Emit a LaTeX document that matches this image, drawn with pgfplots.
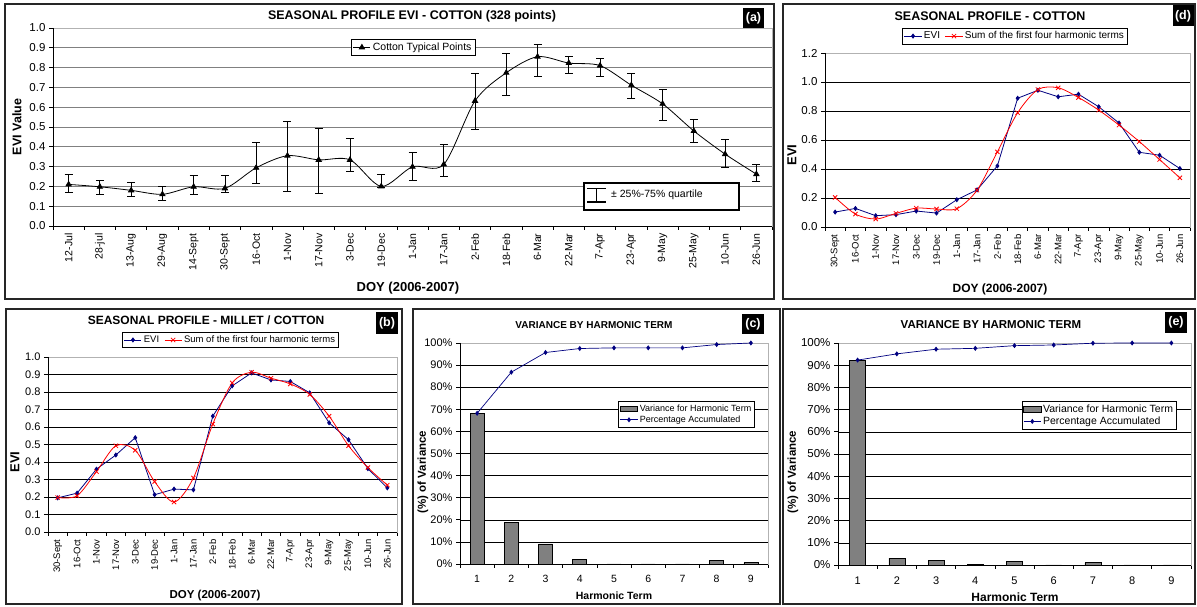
\documentclass[border=0pt]{standalone}
\usepackage{fontspec}
\setmainfont{Liberation Sans}
\usepackage{pgfplots}
\pgfplotsset{compat=1.18}
\definecolor{evi}{RGB}{0,0,128}
\definecolor{harm}{RGB}{255,0,0}
\definecolor{bargray}{RGB}{128,128,128}
\pgfplotsset{
  excel/.style={
    scale only axis, anchor=south west,
    axis line style={draw=gray!60, line width=0.6pt},
    tick style={black, line width=0.6pt},
    tick align=outside, xtick pos=bottom, ytick pos=left,
    major tick length=4pt,
    ymajorgrids, major grid style={black, line width=0.5pt},
    ticklabel style={font=\fontsize{11}{12}\selectfont},
    x tick label as interval,
    legend cell align=left,
    after end axis/.code={\draw[black, line width=0.8pt] (rel axis cs:0,1) -- (rel axis cs:0,0) -- (rel axis cs:1,0);},
    clip=false,
  },
  rotlabels/.style={xticklabel style={rotate=90, anchor=east, font=\fontsize{9.5}{11}\selectfont}},
  evistyle/.style={evi, line width=0.8pt, mark=diamond*, mark size=2pt, mark options={fill=evi, draw=evi}},
  harmstyle/.style={harm, line width=0.8pt, smooth, mark=x, mark size=3pt, mark options={draw=harm}},
}
\pgfplotstableread{
x y ep em
0 0.210 0.050 0.040
1 0.198 0.032 0.038
2 0.180 0.038 0.033
3 0.160 0.040 0.032
4 0.198 0.055 0.038
5 0.190 0.068 0.018
6 0.294 0.128 0.081
7 0.355 0.174 0.181
8 0.334 0.159 0.170
9 0.334 0.109 0.059
10 0.200 0.060 0.005
11 0.299 0.073 0.069
12 0.311 0.103 0.061
13 0.632 0.140 0.146
14 0.774 0.099 0.114
15 0.855 0.064 0.098
16 0.823 0.033 0.053
17 0.810 0.036 0.053
18 0.711 0.061 0.069
19 0.617 0.074 0.085
20 0.480 0.059 0.058
21 0.363 0.075 0.067
22 0.262 0.047 0.037
}\tableA
\pgfplotstableread{
x evi harm
0 0.103 0.204
1 0.128 0.089
2 0.078 0.055
3 0.085 0.094
4 0.110 0.130
5 0.096 0.124
6 0.188 0.126
7 0.256 0.254
8 0.421 0.518
9 0.888 0.788
10 0.943 0.948
11 0.898 0.960
12 0.916 0.893
13 0.829 0.806
14 0.717 0.703
15 0.515 0.589
16 0.495 0.465
17 0.403 0.339
}\tableD
\pgfplotstableread{
x evi harm
0 0.195 0.197
1 0.222 0.207
2 0.359 0.345
3 0.440 0.493
4 0.539 0.467
5 0.213 0.288
6 0.245 0.171
7 0.241 0.309
8 0.662 0.617
9 0.835 0.852
10 0.909 0.913
11 0.869 0.879
12 0.860 0.846
13 0.795 0.786
14 0.624 0.662
15 0.527 0.493
16 0.362 0.368
17 0.252 0.268
}\tableB
\pgfplotstableread{
x bar acc
1 68.2 68.2
2 18.7 86.8
3 9.1 95.7
4 1.9 97.5
5 0 97.8
6 0 97.8
7 0 97.8
8 1.6 99.3
9 0.6 100
}\tableC
\pgfplotstableread{
x bar acc
1 92.3 92.3
2 3.1 95.1
3 2.0 97.2
4 0.4 97.6
5 1.7 98.8
6 0 99.1
7 1.0 99.9
8 0 100
9 0 100
}\tableE
\newcommand{\plabel}[1]{\fontsize{12.5}{13}\selectfont\bfseries #1}
\begin{document}
\begin{tikzpicture}
\useasboundingbox (0,0) rectangle (1197pt,607pt);
% panel frames
\draw[line width=1.1pt, black!85] (5pt,603pt) rectangle (774pt,308pt);
\draw[line width=1.1pt, black!85] (783pt,603pt) rectangle (1195pt,308pt);
\draw[line width=1.1pt, black!85] (6pt,298pt) rectangle (402pt,3pt);
\draw[line width=1.1pt, black!85] (413pt,298pt) rectangle (780pt,3pt);
\draw[line width=1.1pt, black!85] (783pt,298pt) rectangle (1195pt,3pt);

% ---------------- (a)
\begin{axis}[excel, rotlabels, at={(53pt,381pt)}, width=719pt, height=198pt,
  xmin=-0.5, xmax=22.5, ymin=0, ymax=1,
  xtick={-0.5,0.5,...,22.5},
  xticklabels={12-Jul,28-jul,13-Aug,29-Aug,14-Sept,30-Sept,16-Oct,1-Nov,17-Nov,3-Dec,19-Dec,1-Jan,17-Jan,2-Feb,18-Feb,6-Mar,22-Mar,7-Apr,23-Apr,9-May,25-May,10-Jun,26-Jun},
  xticklabel style={font=\fontsize{10.5}{11}\selectfont},
  ytick={0,0.1,0.2,0.3,0.4,0.5,0.6,0.7,0.8,0.9,1.0},
  yticklabels={0.0,0.1,0.2,0.3,0.4,0.5,0.6,0.7,0.8,0.9,1.0},
  yticklabel style={font=\fontsize{11.5}{12}\selectfont},
  major grid style={gray, line width=0.6pt},
  legend style={at={(0.501,0.944)}, anchor=north, draw=black, line width=0.6pt, font=\fontsize{10.5}{12}\selectfont, inner sep=1.5pt},
]
\addplot[black, line width=0.8pt, smooth, tension=0.5, mark=triangle*, mark size=3pt, mark options={fill=black},
  error bars/.cd, y dir=both, y explicit,
  error bar style={black, line width=0.8pt},
  error mark options={rotate=90, mark size=4pt, black, line width=0.8pt}]
  table[x=x, y=y, y error plus=ep, y error minus=em] {\tableA};
\addlegendentry{Cotton Typical Points}
\end{axis}
% quartile box
\draw[line width=1.2pt, fill=white] (584pt,424pt) rectangle (739pt,397pt);
\draw[line width=1pt] (587pt,418pt) -- (606pt,418pt);
\draw[line width=1pt] (596.5pt,418pt) -- (596.5pt,405pt);
\draw[line width=1.4pt] (587pt,405pt) -- (606pt,405pt);
\node[anchor=west, inner sep=0pt, font=\fontsize{10.5}{12}\selectfont] at (611pt,412pt) {± 25\%-75\% quartile};
\node[font=\plabel{}] at (412pt,591pt) {SEASONAL PROFILE EVI - COTTON (328 points)};
\node[font=\fontsize{13}{14}\selectfont\bfseries] at (408pt,319pt) {DOY (2006-2007)};
\node[font=\fontsize{12.5}{13}\selectfont\bfseries, rotate=90] at (17pt,480pt) {EVI Value};
\node[fill=black, text=white, font=\fontsize{12.5}{13}\selectfont\bfseries, minimum width=21pt, minimum height=20pt, inner sep=0pt] at (753.5pt,588.5pt) {(a)};

% ---------------- (d)
\begin{axis}[excel, rotlabels, at={(825pt,380pt)}, width=365pt, height=174pt,
  xmin=-0.5, xmax=17.5, ymin=0, ymax=1.2,
  xtick={-0.5,0.5,...,17.5},
  xticklabels={30-Sept,16-Oct,1-Nov,17-Nov,3-Dec,19-Dec,1-Jan,17-Jan,2-Feb,18-Feb,6-Mar,22-Mar,7-Apr,23-Apr,9-May,25-May,10-Jun,26-Jun},
  ytick={0,0.2,0.4,0.6,0.8,1.0,1.2},
  yticklabels={0.0,0.2,0.4,0.6,0.8,1.0,1.2},
  yticklabel style={font=\fontsize{11.5}{12}\selectfont},
  legend columns=-1,
  legend style={at={(0.5205,1.144)}, anchor=north, draw=black, line width=0.6pt, font=\fontsize{10}{11}\selectfont, inner sep=1.5pt, /tikz/every even column/.append style={column sep=3pt}},
]
\addplot[evistyle] table[x=x, y=evi] {\tableD};
\addlegendentry{EVI}
\addplot[harmstyle] table[x=x, y=harm] {\tableD};
\addlegendentry{Sum of the first four harmonic terms}
\end{axis}
\node[font=\plabel{}] at (990pt,591pt) {SEASONAL PROFILE - COTTON};
\node[font=\fontsize{12}{13}\selectfont\bfseries] at (1000pt,318pt) {DOY (2006-2007)};
\node[font=\fontsize{13}{14}\selectfont\bfseries, rotate=90] at (792pt,452pt) {EVI};
\node[fill=black, text=white, font=\fontsize{12.5}{13}\selectfont\bfseries, minimum width=21pt, minimum height=21pt, inner sep=0pt] at (1183pt,591pt) {(d)};

% ---------------- (b)
\begin{axis}[excel, rotlabels, at={(48pt,75pt)}, width=349pt, height=175pt,
  xmin=-0.5, xmax=17.5, ymin=0, ymax=1,
  xtick={-0.5,0.5,...,17.5},
  xticklabels={30-Sept,16-Oct,1-Nov,17-Nov,3-Dec,19-Dec,1-Jan,17-Jan,2-Feb,18-Feb,6-Mar,22-Mar,7-Apr,23-Apr,9-May,25-May,10-Jun,26-Jun},
  ytick={0,0.1,0.2,0.3,0.4,0.5,0.6,0.7,0.8,0.9,1.0},
  yticklabels={0.0,0.1,0.2,0.3,0.4,0.5,0.6,0.7,0.8,0.9,1.0},
  legend columns=-1,
  legend style={at={(0.523,1.143)}, anchor=north, draw=black, line width=0.6pt, font=\fontsize{9.5}{11}\selectfont, inner sep=1.5pt, /tikz/every even column/.append style={column sep=3pt}},
]
\addplot[evistyle] table[x=x, y=evi] {\tableB};
\addlegendentry{EVI}
\addplot[harmstyle] table[x=x, y=harm] {\tableB};
\addlegendentry{Sum of the first four harmonic terms}
\end{axis}
\node[font=\fontsize{12}{13}\selectfont\bfseries] at (206pt,287pt) {SEASONAL PROFILE - MILLET / COTTON};
\node[font=\fontsize{11.5}{12}\selectfont\bfseries] at (215pt,11pt) {DOY (2006-2007)};
\node[font=\fontsize{13}{14}\selectfont\bfseries, rotate=90] at (15pt,145pt) {EVI};
\node[fill=black, text=white, font=\fontsize{12.5}{13}\selectfont\bfseries, minimum width=22pt, minimum height=22pt, inner sep=0pt] at (387pt,283.5pt) {(b)};

% ---------------- (c)
\begin{axis}[excel, at={(460pt,43pt)}, width=308pt, height=221pt,
  xmin=0.5, xmax=9.5, ymin=0, ymax=100,
  xtick={0.5,1.5,...,9.5},
  xticklabels={1,2,3,4,5,6,7,8,9},
  xticklabel style={anchor=north, yshift=-4pt, font=\fontsize{10.5}{12}\selectfont},
  ytick={0,10,20,30,40,50,60,70,80,90,100},
  yticklabels={0\%,10\%,20\%,30\%,40\%,50\%,60\%,70\%,80\%,90\%,100\%},
  legend style={at={(0.958,0.7376)}, anchor=north east, draw=black, line width=0.6pt, font=\fontsize{9}{10}\selectfont, inner sep=1.5pt, row sep=-1pt},
]
\addplot[ybar, bar width=14pt, fill=bargray, draw=black, line width=0.6pt, area legend] table[x=x, y=bar] {\tableC};
\addlegendentry{Variance for Harmonic Term}
\addplot[evistyle, line width=0.7pt] table[x=x, y=acc] {\tableC};
\addlegendentry{Percentage Accumulated}
\end{axis}
\node[font=\fontsize{10}{11}\selectfont\bfseries] at (594pt,282pt) {VARIANCE BY HARMONIC TERM};
\node[font=\fontsize{10.5}{11}\selectfont\bfseries] at (614pt,11pt) {Harmonic Term};
\node[font=\fontsize{11.5}{12}\selectfont\bfseries, rotate=90] at (423pt,135pt) {(\%) of Variance};
\node[fill=black, text=white, font=\fontsize{12.5}{13}\selectfont\bfseries, minimum width=22pt, minimum height=20pt, inner sep=0pt] at (753pt,283pt) {(c)};

% ---------------- (e)
\begin{axis}[excel, at={(838pt,42pt)}, width=353pt, height=222pt,
  xmin=0.5, xmax=9.5, ymin=0, ymax=100,
  xtick={0.5,1.5,...,9.5},
  xticklabels={1,2,3,4,5,6,7,8,9},
  xticklabel style={anchor=north, yshift=-4pt, font=\fontsize{11}{12}\selectfont},
  ytick={0,10,20,30,40,50,60,70,80,90,100},
  yticklabels={0\%,10\%,20\%,30\%,40\%,50\%,60\%,70\%,80\%,90\%,100\%},
  yticklabel style={font=\fontsize{11.5}{12}\selectfont},
  legend style={at={(0.960,0.739)}, anchor=north east, draw=black, line width=0.6pt, font=\fontsize{10.5}{11}\selectfont, inner sep=1.5pt, row sep=-1pt},
]
\addplot[ybar, bar width=16pt, fill=bargray, draw=black, line width=0.6pt, area legend] table[x=x, y=bar] {\tableE};
\addlegendentry{Variance for Harmonic Term}
\addplot[evistyle, line width=0.7pt] table[x=x, y=acc] {\tableE};
\addlegendentry{Percentage Accumulated}
\end{axis}
\node[font=\fontsize{11.5}{12}\selectfont\bfseries] at (991pt,282pt) {VARIANCE BY HARMONIC TERM};
\node[font=\fontsize{12}{13}\selectfont\bfseries] at (1015pt,10pt) {Harmonic Term};
\node[font=\fontsize{11.5}{12}\selectfont\bfseries, rotate=90] at (793pt,135pt) {(\%) of Variance};
\node[fill=black, text=white, font=\fontsize{12.5}{13}\selectfont\bfseries, minimum width=22pt, minimum height=21pt, inner sep=0pt] at (1176pt,284.5pt) {(e)};
\end{tikzpicture}
\end{document}
